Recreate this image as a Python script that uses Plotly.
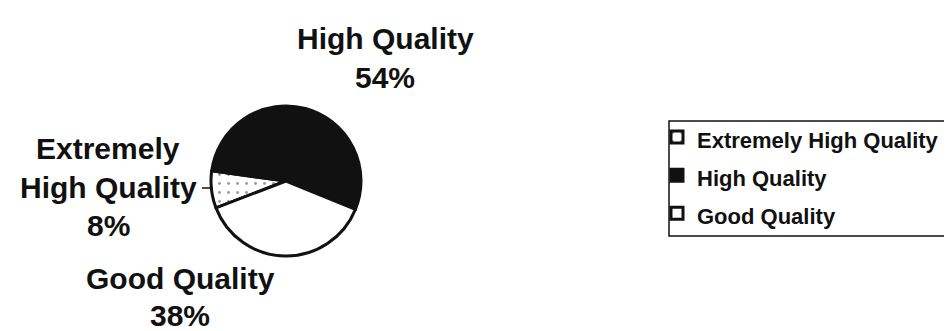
import plotly.graph_objects as go

# ---- data ----
categories = ["Extremely High Quality", "High Quality", "Good Quality"]
shares = [8, 54, 38]
slice_label_text = ["Extremely<br>High Quality", "High Quality", "Good Quality"]
slice_colors = ["#ffffff", "#111111", "#ffffff"]
slice_patterns = [".", "", ""]

W, H = 952, 331
FONT = "Liberation Sans, Arial, sans-serif"


def px(x):
    return x / W


def py(y):
    return 1 - y / H


# pie geometry (pixels)
cx, cy, r = 278, 173, 75

legend_names = [f"<span style='font-size:22px'>{c}</span>" for c in categories]

fig = go.Figure(
    go.Pie(
        labels=legend_names,
        values=shares,
        sort=False,
        direction="clockwise",
        rotation=249,
        textinfo="none",
        hoverinfo="label+percent",
        marker=dict(
            colors=slice_colors,
            line=dict(color="#111111", width=3),
            pattern=dict(shape=slice_patterns, fgcolor="#9a9a9a",
                         bgcolor="#ffffff", size=9, solidity=0.08),
        ),
        domain=dict(x=[px(cx - r), px(cx + r)], y=[py(cy + r), py(cy - r)]),
    )
)

# outside slice labels (name lines + percentage line)
label_anchor = [(100, 140), (377, 30), (172, 270)]
line_steps = [39, 39, 37]
annotations = []
for txt, val, (ax, ay), step in zip(slice_label_text, shares, label_anchor, line_steps):
    lines = txt.split("<br>") + [f"{val}%"]
    for i, ln in enumerate(lines):
        annotations.append(dict(
            x=px(ax), y=py(ay + i * step), xref="paper", yref="paper",
            text=ln, showarrow=False, xanchor="center", yanchor="middle",
            font=dict(family=FONT, size=30, color="#111111", weight="bold"),
        ))

shapes = [
    # leader line for the small slice
    dict(type="line", xref="paper", yref="paper",
         x0=px(194), x1=px(205), y0=py(180), y1=py(180),
         line=dict(color="#111111", width=1.5)),
    # legend frame (runs off the right edge like the source)
    dict(type="rect", xref="paper", yref="paper",
         x0=px(661), x1=px(990), y0=py(113), y1=py(228),
         line=dict(color="#111111", width=1.5), fillcolor="rgba(0,0,0,0)"),
]

fig.update_layout(
    width=W, height=H,
    margin=dict(l=0, r=0, t=0, b=0),
    paper_bgcolor="white", plot_bgcolor="white",
    showlegend=True,
    legend=dict(
        x=px(649), y=py(105), xanchor="left", yanchor="top",
        font=dict(family=FONT, size=27, color="#111111", weight="bold"),
        bgcolor="rgba(0,0,0,0)", borderwidth=0,
        traceorder="normal",
    ),
    annotations=annotations,
    shapes=shapes,
)

fig.write_html("out.html")
